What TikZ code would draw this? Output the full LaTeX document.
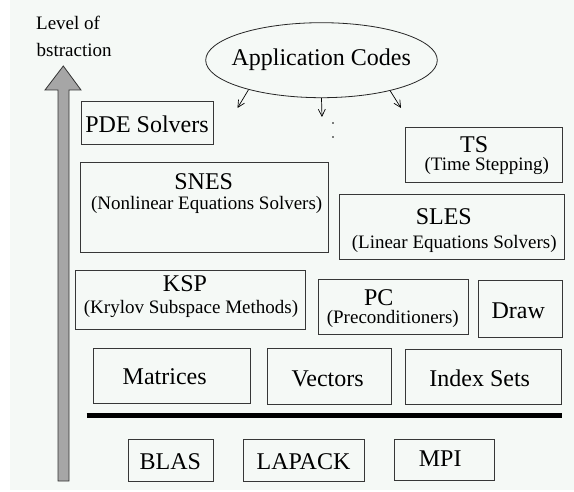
\documentclass[tikz,border=0pt]{standalone}
\usepackage{fontspec}
\setmainfont{Liberation Serif}
\usetikzlibrary{shapes.geometric,arrows.meta,fit}
\definecolor{paper}{RGB}{245,249,246}
\definecolor{frameline}{RGB}{55,55,55}
\tikzset{
  layerbox/.style={draw=frameline, line width=1pt, inner sep=0pt},
  ttl/.style={font=\fontsize{24}{28}\selectfont, inner sep=0pt, anchor=base},
  sub/.style={font=\fontsize{19}{22}\selectfont, inner sep=0pt, anchor=base},
  side/.style={font=\fontsize{19}{22}\selectfont, inner sep=0pt, anchor=base west},
  callarrow/.style={draw=black, line width=0.7pt, -{Straight Barb[length=7pt,width=7pt]}},
}
\begin{document}
\begin{tikzpicture}[x=1pt,y=-1pt]
  % canvas and tinted page
  \useasboundingbox (0,0) rectangle (574,492);
  \fill[white] (0,0) rectangle (574,492);
  \fill[paper] (10,0) rectangle (574,490);

  % level-of-abstraction arrow
  \filldraw[fill=black!35, draw=black!80, line width=0.8pt]
    (58,481) -- (58,90) -- (45,90) -- (63.3,66) -- (81,90) -- (69,90) -- (69,481) -- cycle;
  \node[side] (lvl1) at (36,30) {Level of};
  \node[side] (lvl2) at (36.5,56.7) {bstraction};

  % application codes
  \node[draw=black!85, line width=0.8pt, ellipse, minimum width=231.6pt, minimum height=75pt, inner sep=0pt] (app) at (321.5,60.2) {};
  \node[ttl] (appT) at (321.2,66) {Application Codes};
  \coordinate (callL) at (237.5,108);
  \coordinate (callM) at (322,117);
  \coordinate (callR) at (401,108);
  \draw[callarrow] (app.202.6) -- (callL);
  \draw[callarrow] (app.south) -- (callM);
  \draw[callarrow] (app.336.1) -- (callR);
  \fill (333,123) circle (0.8pt);
  \fill (333,137) circle (0.8pt);

  % PETSc layers
  \node[layerbox, fit={(81,102) (213,145)}] (pde) {};
  \node[ttl] (pdeT) at (147,132.3) {PDE Solvers};

  \node[layerbox, fit={(405.7,127.3) (562.3,182.3)}] (ts) {};
  \node[ttl] (tsT) at (474.2,152.3) {TS};
  \node[sub] (tsS) at (486.8,170.6) {(Time Stepping)};

  \node[layerbox, fit={(80.7,162.7) (328.3,252.3)}] (snes) {};
  \node[ttl] (snesT) at (203.7,190) {SNES};
  \node[sub] (snesS) at (206.7,210) {(Nonlinear Equations Solvers)};

  \node[layerbox, fit={(339.3,195) (564,260)}] (sles) {};
  \node[ttl] (slesT) at (443.8,224.3) {SLES};
  \node[sub] (slesS) at (454.2,248.3) {(Linear Equations Solvers)};

  \node[layerbox, fit={(75.3,270.7) (305,330)}] (ksp) {};
  \node[ttl] (kspT) at (185,291.7) {KSP};
  \node[sub] (kspS) at (191,313.3) {(Krylov Subspace Methods)};

  \node[layerbox, fit={(318.3,279.3) (468.3,335)}] (pc) {};
  \node[ttl] (pcT) at (378.8,306) {PC};
  \node[sub] (pcS) at (392.8,324) {(Preconditioners)};

  \node[layerbox, fit={(478.3,280.7) (562.3,337.3)}] (drw) {};
  \node[ttl] (drwT) at (518.3,318.3) {Draw};

  \node[layerbox, fit={(93.3,348.5) (250,403.3)}] (mat) {};
  \node[ttl] (matT) at (164.7,384.3) {Matrices};

  \node[layerbox, fit={(267.7,349) (391,404)}] (vec) {};
  \node[ttl] (vecT) at (327.7,386) {Vectors};

  \node[layerbox, fit={(405.7,350) (561.7,404)}] (is) {};
  \node[ttl] (isT) at (479.7,386) {Index Sets};

  % separator between PETSc and external libraries
  \coordinate (barL) at (86.7,415.5);
  \coordinate (barR) at (562.3,415.5);
  \draw[line width=4.5pt] (barL) -- (barR);

  \node[layerbox, fit={(128.7,439.3) (213.3,481.7)}] (blas) {};
  \node[ttl] (blasT) at (170.3,469.3) {BLAS};

  \node[layerbox, fit={(243.3,439.3) (364.3,481)}] (lapack) {};
  \node[ttl] (lapackT) at (303.5,469.3) {LAPACK};

  \node[layerbox, fit={(394,439.3) (494.3,480.7)}] (mpi) {};
  \node[ttl] (mpiT) at (440.2,466) {MPI};
\end{tikzpicture}
\end{document}
